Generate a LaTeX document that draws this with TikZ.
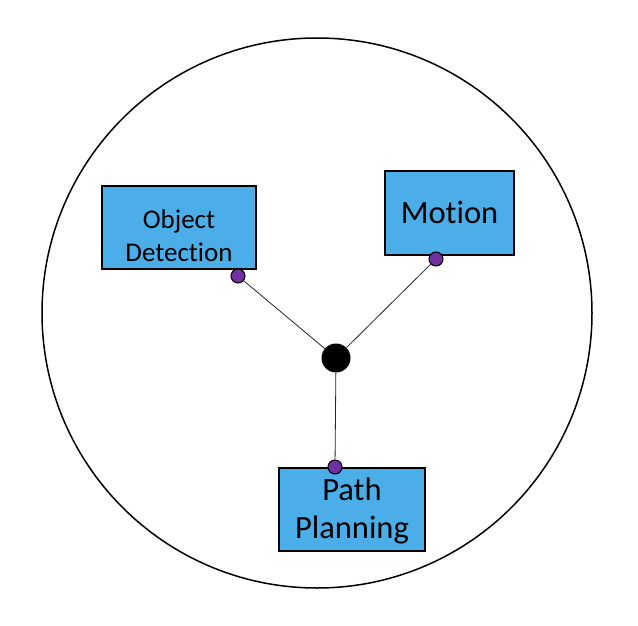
\documentclass[tikz,border=0pt]{standalone}
\usepackage{fontspec}
\setmainfont{Carlito}[Ligatures={NoCommon}]
\definecolor{boxblue}{RGB}{75,174,233}
\definecolor{portpurple}{RGB}{112,48,160}
\begin{document}
\begin{tikzpicture}[x=1pt,y=-1pt,
  modbox/.style={draw=black,line width=2pt,fill=boxblue,rectangle,inner sep=0pt},
  modtext/.style={align=center,inner sep=0pt,text=black},
  port/.style={circle,draw=black,line width=1pt,fill=portpurple,minimum size=14pt,inner sep=0pt},
  hubdot/.style={circle,fill=black,minimum size=29pt,inner sep=0pt},
  link/.style={line width=0.8pt,draw=black!85}]
\useasboundingbox (0,0) rectangle (638,626);
\draw[line width=1.5pt] (317,313) circle[radius=275];
\node[modbox,minimum width=154pt,minimum height=83pt] (obj) at (179,227.5) {};
\node[modtext,font=\fontsize{27}{33}\selectfont] (objt) at (179,235.5) {Object\\Detection};
\node[modbox,minimum width=129pt,minimum height=84pt] (mot) at (449.5,213) {};
\node[modtext,font=\fontsize{32.5}{38}\selectfont] (mott) at (449.5,212.5) {Motion};
\node[modbox,minimum width=146pt,minimum height=83pt] (path) at (352,509.5) {};
\node[modtext,font=\fontsize{32.5}{38}\selectfont] (patht) at (352,511) {Path\\Planning};
\node[hubdot] (hub) at (336,358) {};
\node[port] (p1) at (238,276) {};
\node[port] (p2) at (436,259) {};
\node[port] (p3) at (335,467) {};
\draw[link] (p1) -- (hub);
\draw[link] (p2) -- (hub);
\draw[link] (p3) -- (hub);
\end{tikzpicture}
\end{document}
